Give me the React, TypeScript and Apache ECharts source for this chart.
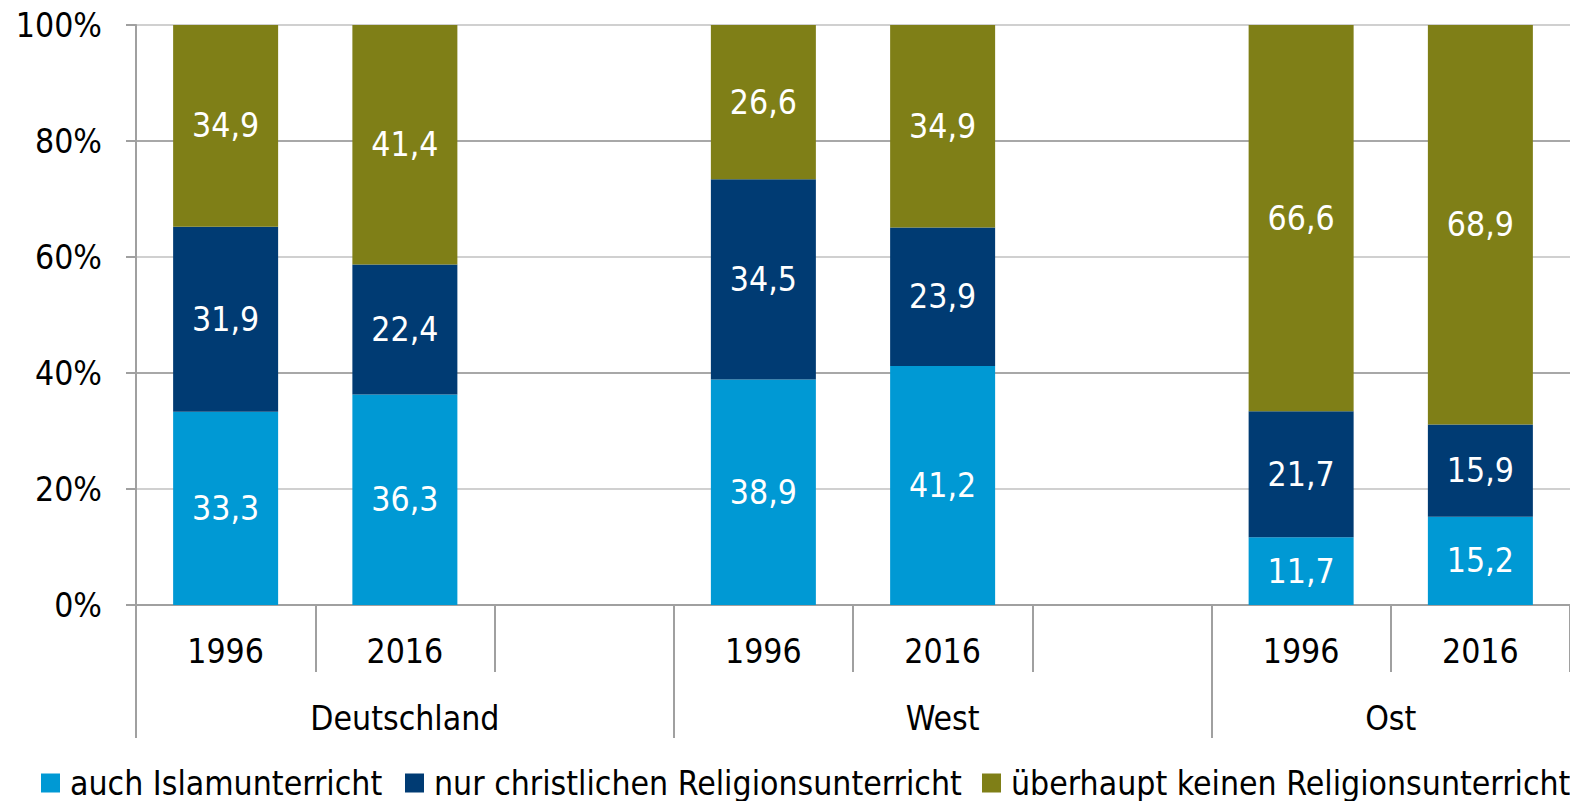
import React, { useEffect, useRef } from "react";
import * as echarts from "echarts";

const years = ["1996", "2016", "", "1996", "2016", "", "1996", "2016"];
const groupNames = ["Deutschland", "West", "Ost"];
const groupCenters = [1.5, 4.5, 7];
const groupBounds = [0, 3, 6];
const seriesNames = [
  "auch Islamunterricht",
  "nur christlichen Religionsunterricht",
  "überhaupt keinen Religionsunterricht",
];
const islam = [33.3, 36.3, null, 38.9, 41.2, null, 11.7, 15.2];
const christ = [31.9, 22.4, null, 34.5, 23.9, null, 21.7, 15.9];
const none = [34.9, 41.4, null, 26.6, 34.9, null, 66.6, 68.9];
const yTicks = [0, 20, 40, 60, 80, 100];

const FONT = "'DejaVu Sans Condensed', 'DejaVu Sans', sans-serif";
const FS = 33.5;
const colors = ["#0099D4", "#003B73", "#7F7F17"];
const legendLefts = [36, 400, 977];

export default function App() {
  const ref = useRef<HTMLDivElement>(null);
  useEffect(() => {
    document.body.style.margin = "0";
    const chart = echarts.init(ref.current!, null, { renderer: "svg" });
    const fmt = (p: any) => String(p.value).replace(".", ",");
    const mk = (name: string, data: any[], i: number) => ({
      name,
      type: "bar",
      stack: "s",
      xAxisIndex: 0,
      barWidth: 105,
      data,
      itemStyle: { color: colors[i] },
      label: {
        show: true,
        position: "inside",
        color: "#fff",
        fontFamily: FONT,
        fontSize: FS,
        formatter: fmt,
      },
    });
    chart.setOption({
      animation: false,
      textStyle: { fontFamily: FONT },
      grid: { left: 136, right: -3, top: 25, bottom: 196, containLabel: false },
      legend: seriesNames.map((n, i) => ({
        bottom: -4,
        left: legendLefts[i],
        itemWidth: 19,
        itemHeight: 19,
        icon: "rect",
        selectedMode: false,
        textStyle: { fontFamily: FONT, fontSize: FS, color: "#000", padding: [0, 0, 0, 5] },
        data: [n],
      })),
      xAxis: [
        {
          type: "category",
          data: years,
          boundaryGap: true,
          axisLine: { lineStyle: { color: "#a0a0a0", width: 2 } },
          axisTick: { show: true, interval: 0, length: 67, lineStyle: { color: "#a0a0a0", width: 2 } },
          axisLabel: { interval: 0, color: "#000", fontFamily: FONT, fontSize: FS, margin: 29 },
        },
        {
          type: "value",
          min: 0,
          max: 8,
          position: "bottom",
          axisLine: { show: false },
          splitLine: { show: false },
          axisTick: { show: true, customValues: groupBounds, length: 133, lineStyle: { color: "#a0a0a0", width: 2 } },
          axisLabel: {
            customValues: groupCenters,
            color: "#000",
            fontFamily: FONT,
            fontSize: FS,
            margin: 96,
            formatter: (v: number) => groupNames[groupCenters.indexOf(v)] ?? "",
          },
        },
      ],
      yAxis: {
        type: "value",
        min: 0,
        max: 100,
        interval: 10,
        axisLine: { show: true, lineStyle: { color: "#a0a0a0", width: 2 } },
        axisTick: { show: true, customValues: yTicks, length: 10, lineStyle: { color: "#a0a0a0", width: 2 } },
        axisLabel: {
          customValues: yTicks,
          color: "#000",
          fontFamily: FONT,
          fontSize: FS,
          margin: 34,
          formatter: (v: number) => v + "%",
        },
        splitLine: { show: true, lineStyle: { color: ["#a8a8a8", "#d0d0d0"], width: 2 } },
      },
      series: [mk(seriesNames[0], islam, 0), mk(seriesNames[1], christ, 1), mk(seriesNames[2], none, 2)],
    });
    return () => chart.dispose();
  }, []);
  return <div ref={ref} style={{ width: 1570, height: 801 }} />;
}
